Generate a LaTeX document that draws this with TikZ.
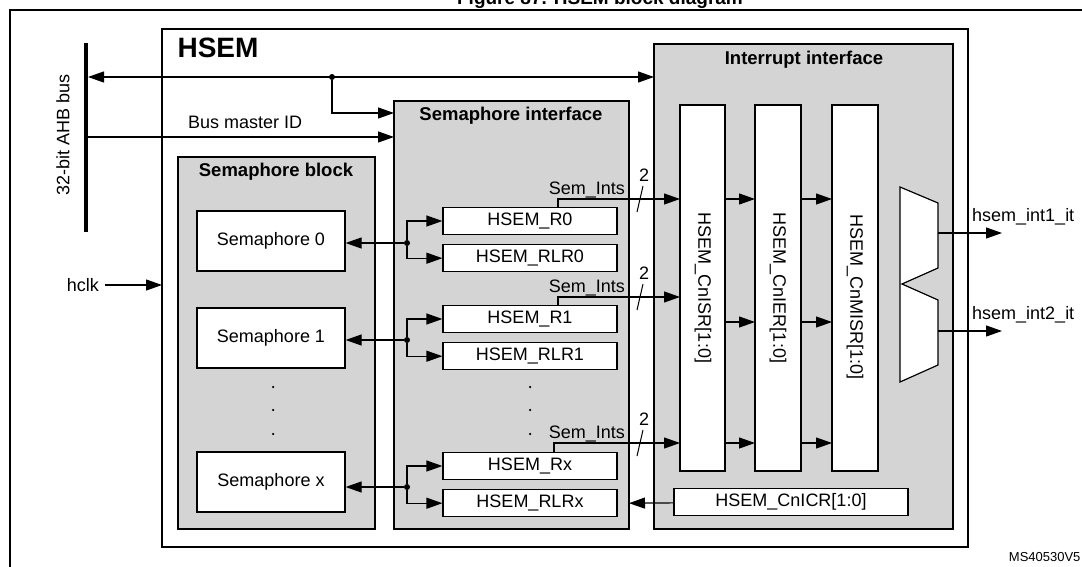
\documentclass[tikz,border=0pt]{standalone}
\usepackage{fontspec}
\setmainfont{Liberation Sans}
\usetikzlibrary{arrows.meta,positioning,shapes}

\begin{document}
\begin{tikzpicture}[x=1pt,y=-1pt,
  blk/.style={draw,line width=1.5pt,fill=black!17},
  reg/.style={draw,line width=1.2pt,fill=white,font=\fontsize{18}{20}\selectfont},
  ttl/.style={font=\bfseries\fontsize{18.5}{22}\selectfont},
  lbl/.style={font=\fontsize{18}{20}\selectfont,inner sep=1pt},
  arr/.style={-{Triangle[length=16pt,width=11pt]},line width=1.2pt},
  dot/.style={circle,fill,inner sep=0pt,minimum size=6pt}]
  \useasboundingbox (0,0) rectangle (1082,567);

  % frame and title
  \draw[line width=1.5pt] (10,567) -- (10,10) -- (1082,10);
  \node[font=\bfseries\fontsize{19}{22}\selectfont,anchor=base] (fig) at (600,5) {Figure 87. HSEM block diagram};
  \node[font=\fontsize{13}{15}\selectfont,anchor=east] (ms) at (1084,557) {MS40530V5};

  % HSEM
  \draw[line width=1.8pt] (162,29) rectangle (968,547);
  \node[font=\bfseries\fontsize{28}{32}\selectfont,anchor=west] (hsem) at (174,48) {HSEM};

  % blocks
  \draw[blk] (178,157) rectangle (375,529);
  \node[ttl] (sbt) at (276,172) {Semaphore block};
  \draw[blk] (394,101) rectangle (629,529);
  \node[ttl] (sit) at (511,116) {Semaphore interface};
  \draw[blk] (654,44) rectangle (953,529);
  \node[ttl] (iit) at (804,60) {Interrupt interface};

  % bus
  \draw[line width=4pt] (86,43) -- (86,232);
  \node[lbl,rotate=90] (bus) at (63,135) {32-bit AHB bus};
  \coordinate (busa) at (88,77);
  \coordinate (busb) at (654,77);
  \coordinate (busm) at (88,137);
  \draw[{Triangle[length=16pt,width=11pt]}-{Triangle[length=16pt,width=11pt]},line width=1.2pt] (busa) -- (busb);
  \node[dot] (bd) at (332,77) {};
  \draw[arr] (bd) |- (394,113);
  \draw[arr] (busm) -- (394,137);
  \node[lbl,anchor=base west] (bmid) at (187,129) {Bus master ID};

  % clock
  \node[lbl,anchor=east] (hclk) at (100,285) {hclk};
  \draw[arr] (hclk.east) ++(5,0) -- (162,285);

  % semaphores and registers
  \foreach \n/\s/\y/\r/\d in {0/0/241/221/243,1/1/338/319/340,x/x/482/466/487}{
    \node[reg,minimum width=148pt,minimum height=60pt] (sem\n) at (271,\y) {Semaphore \s};
    \node[reg,minimum width=174pt,minimum height=27pt] (r\n) at (530,\r) {HSEM\_R\s};
    \node[reg,minimum width=174pt,minimum height=27pt,below=9pt of r\n] (rlr\n) {HSEM\_RLR\s};
    \node[dot] (d\n) at (407,\d) {};
    \draw[arr] (d\n) -- (sem\n.east |- d\n);
    \draw[arr] (d\n) |- (r\n);
    \draw[arr] (d\n) |- (rlr\n);
  }
  \foreach \y in {387,410,434}{
    \node[dot,minimum size=2.5pt] at (273,\y) {};
    \node[dot,minimum size=2.5pt] at (530,\y) {};
  }

  % interrupt registers
  \draw[reg] (680,105) rectangle (725,471);
  \draw[reg] (755,105) rectangle (801,471);
  \draw[reg] (832,105) rectangle (878,471);
  \node[lbl,rotate=-90] (isr) at (703,288) {HSEM\_CnISR[1:0]};
  \node[lbl,rotate=-90] (ier) at (778,288) {HSEM\_CnIER[1:0]};
  \node[lbl,rotate=-90] (misr) at (855,297) {HSEM\_CnMISR[1:0]};
  \node[reg,minimum width=234pt,minimum height=27pt] (icr) at (791,502) {HSEM\_CnICR[1:0]};
  \draw[arr] (icr) -- (rlrx.east -| 629,0);

  % Sem_Ints
  \foreach \n/\y/\x in {0/199/558,1/297/558,x/443/554}{
    \draw[arr] (r\n.north -| \x,0) |- (680,\y);
    \draw[line width=1pt] (637,\y+13) -- (643,\y-13);
    \node[lbl,anchor=base east] at (626,\y-5) {Sem\_Ints};
    \node[lbl] at (644,\y-24) {2};
  }
  \foreach \y in {199,322,443}{
    \draw[arr] (725,\y) -- (755,\y);
    \draw[arr] (801,\y) -- (832,\y);
  }

  % mux and outputs
  \draw[fill=white,line width=1.2pt] (900,187) -- (938,203) -- (938,268) -- (902,284)
    -- (938,300) -- (938,365) -- (900,382) -- cycle;
  \node[lbl,anchor=base west] (o1) at (971,221) {hsem\_int1\_it};
  \node[lbl,anchor=base west] (o2) at (971,319) {hsem\_int2\_it};
  \draw[arr] (938,233) -- (1002,233);
  \draw[arr] (938,331) -- (1002,331);
\end{tikzpicture}
\end{document}
